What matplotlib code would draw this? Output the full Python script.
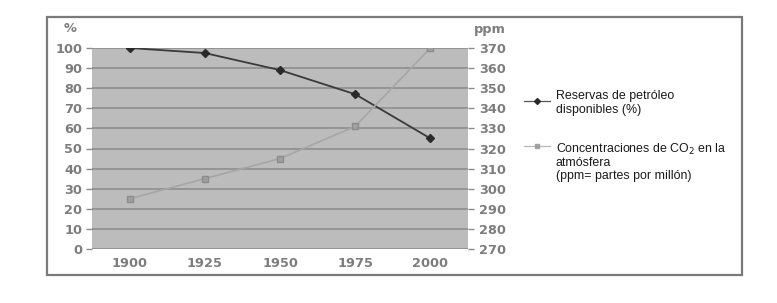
import matplotlib.pyplot as plt
from matplotlib.patches import Rectangle
from matplotlib.lines import Line2D

years = ["1900", "1925", "1950", "1975", "2000"]
oil_pct = [100, 97.5, 89, 77, 55]
co2_ppm = [295, 305, 315, 331, 370]

oil_label = ["Reservas de petróleo", "disponibles (%)"]
co2_label = ["Concentraciones de CO$_2$ en la", "atmósfera", "(ppm= partes por millón)"]

plt.rcParams['font.family'] = ['Liberation Sans', 'DejaVu Sans']

W, H = 777, 303
fig = plt.figure(figsize=(W / 100, H / 100), dpi=100)

def fx(px):
    return px / W

def fy(py):
    return 1 - py / H

# outer frame
fig.patches.append(Rectangle((fx(47), fy(275)), fx(742) - fx(47), fy(17) - fy(275),
                             transform=fig.transFigure, fill=False,
                             edgecolor='#7a7a7a', linewidth=1.6))

ax = fig.add_axes([fx(92), fy(249), fx(468) - fx(92), fy(48) - fy(249)])
ax.set_facecolor('#bcbcbc')
x = list(range(len(years)))
ax.set_xlim(-0.5, len(years) - 0.5)
ax.set_ylim(0, 100)
ax.set_yticks(range(0, 101, 10))
ax.set_xticks(x)
ax.set_xticklabels(years)
ax.grid(axis='y', color='#8a8a8a', linewidth=1.1)
ax.set_axisbelow(True)
for s in ax.spines.values():
    s.set_visible(False)

axis_font = dict(family='DejaVu Sans', weight='bold', size=9.3)
tick_style = dict(colors='#8c8c8c', length=4, width=1)
ax.tick_params(axis='y', **tick_style, pad=3)
ax.tick_params(axis='x', length=0, pad=6, colors='#8c8c8c')

ax2 = ax.twinx()
ax2.set_ylim(270, 370)
ax2.set_yticks(range(270, 371, 10))
for s in ax2.spines.values():
    s.set_visible(False)
ax2.tick_params(axis='y', **tick_style, pad=4)

for lbl in ax.get_xticklabels() + ax.get_yticklabels() + ax2.get_yticklabels():
    lbl.set_fontproperties(axis_font)
    lbl.set_color('#7d7d7d')

ax.plot(x, oil_pct, color='#3a3a3a', linewidth=1.3, marker='D', markersize=4.5,
        markerfacecolor='#2a2a2a', markeredgecolor='#2a2a2a', zorder=5)
ax2.plot(x, co2_ppm, color='#a6a6a6', linewidth=1.2, marker='s', markersize=4,
         markerfacecolor='#a0a0a0', markeredgecolor='#8c8c8c', zorder=5)

fig.text(fx(70), fy(29), "%", ha='center', va='center', color='#7d7d7d', **axis_font)
fig.text(fx(490), fy(30), "ppm", ha='center', va='center', color='#7d7d7d', **axis_font)

# legend
fig.lines.append(Line2D([fx(524), fx(550)], [fy(101), fy(101)], transform=fig.transFigure,
                        color='#555555', linewidth=0.9))
fig.lines.append(Line2D([fx(537)], [fy(101)], transform=fig.transFigure,
                        color='#2a2a2a', marker='D', markersize=3, linestyle='none'))
fig.lines.append(Line2D([fx(524), fx(550)], [fy(146), fy(146)], transform=fig.transFigure,
                        color='#b8b8b8', linewidth=0.9))
fig.lines.append(Line2D([fx(537)], [fy(146)], transform=fig.transFigure,
                        color='#a0a0a0', marker='s', markersize=2.5, linestyle='none'))

for i, line in enumerate(oil_label):
    fig.text(fx(556), fy(99.5 + 13.2 * i), line, ha='left', va='baseline',
             fontsize=8.9, color='#1a1a1a')
for i, line in enumerate(co2_label):
    fig.text(fx(556), fy(152.5 + 13.4 * i), line, ha='left', va='baseline',
             fontsize=8.9, color='#1a1a1a')

fig.savefig("out.png", dpi=100)
